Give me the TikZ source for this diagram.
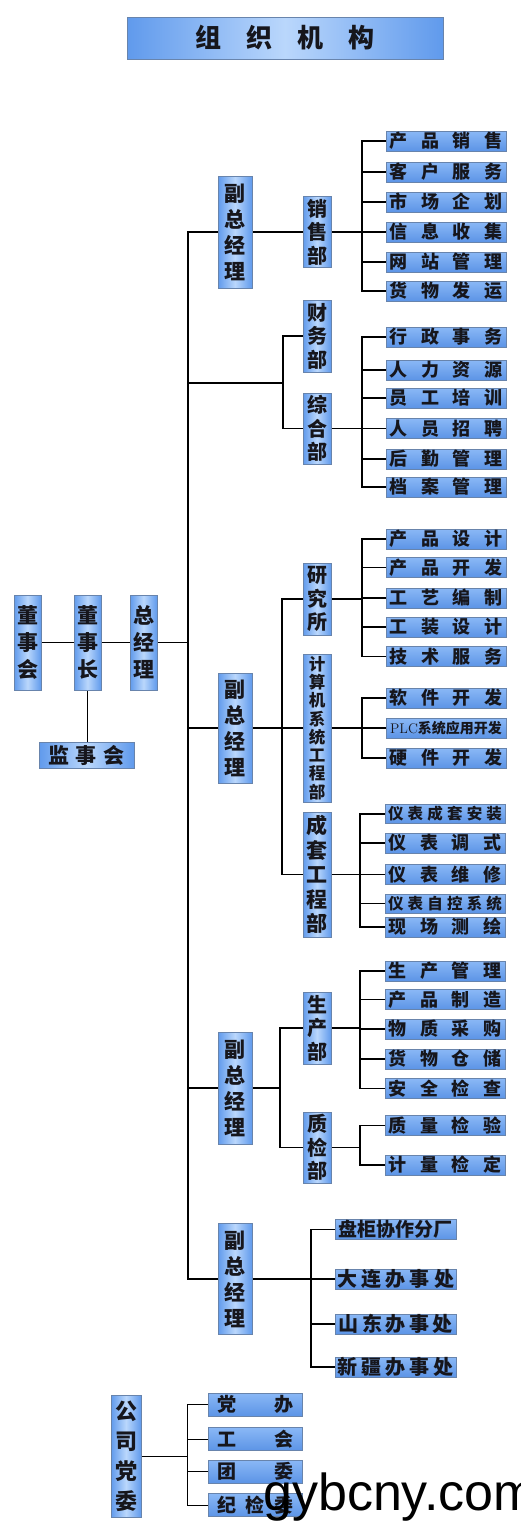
\documentclass[tikz,border=0pt]{standalone}
\usepackage{fontspec}
\usepackage{xcolor}
\newfontfamily\cjk{Noto Sans CJK SC}
\newfontfamily\wmfont{Liberation Sans}
\usetikzlibrary{backgrounds}

\definecolor{boxblue}{RGB}{96,154,236}
\definecolor{boxlight}{RGB}{186,215,252}
\definecolor{leaftop}{RGB}{138,184,246}
\definecolor{leafbot}{RGB}{92,148,230}
\definecolor{boxedge}{RGB}{104,132,172}
\definecolor{ink}{RGB}{22,22,28}

% spread spaced characters over a fixed width
\newcommand\spr[2]{\makebox[#1][s]{#2}}

\begin{document}
\begin{tikzpicture}[x=1pt,y=-1pt,
  vbox/.style={draw=boxedge,line width=0.6pt,left color=boxblue,right color=boxblue,
    middle color=boxlight,inner sep=0pt,align=center,text=ink},
  titlebox/.style={vbox,minimum width=316pt,minimum height=42pt,font=\cjk\bfseries\fontsize{26}{30}\selectfont},
  topbox/.style={vbox,minimum width=27pt,minimum height=95pt,font=\cjk\bfseries\fontsize{21}{27}\selectfont},
  vpbox/.style={vbox,minimum width=34pt,minimum height=112pt,font=\cjk\bfseries\fontsize{21}{26}\selectfont},
  deptbox/.style={vbox,minimum width=28pt,minimum height=71pt,font=\cjk\bfseries\fontsize{20}{23.5}\selectfont},
  leaf/.style={draw=boxedge,line width=0.6pt,top color=leaftop,bottom color=leafbot,
    inner sep=0pt,minimum width=120pt,minimum height=20pt,text=ink,font=\cjk\bfseries\fontsize{18}{20}\selectfont},
  office/.style={leaf,minimum width=121pt,font=\cjk\bfseries\fontsize{20}{22}\selectfont},
  party/.style={leaf,minimum width=94pt,minimum height=23pt,font=\cjk\bfseries\fontsize{19}{22}\selectfont},
  link/.style={line width=1.6pt,line cap=rect},
  thinlink/.style={line width=1pt,line cap=rect}]

  \useasboundingbox (0,0) rectangle (520,1540);

  % title
  \node[titlebox] (title) at (285,38) {\spr{180pt}{组 织 机 构}};

  % board and general manager
  \node[topbox] (dsh) at (27.5,642.5) {董\\事\\会};
  \node[topbox] (dsz) at (87.5,642.5) {董\\事\\长};
  \node[topbox] (zjl) at (143.5,642.5) {总\\经\\理};
  \node[vbox,minimum width=95pt,minimum height=26pt,font=\cjk\bfseries\fontsize{21}{24}\selectfont]
    (jsh) at (86.5,755) {\spr{76pt}{监 事 会}};

  % deputy general managers
  \node[vpbox] (vp1) at (235,232) {副\\总\\经\\理};
  \node[vpbox,minimum height=110pt] (vp2) at (235,728) {副\\总\\经\\理};
  \node[vpbox] (vp3) at (235,1088) {副\\总\\经\\理};
  \node[vpbox,minimum height=111pt] (vp4) at (235,1279) {副\\总\\经\\理};

  % departments
  \node[deptbox] (xsb) at (317,232) {销\\售\\部};
  \node[deptbox,minimum height=72pt] (cwb) at (317,336) {财\\务\\部};
  \node[deptbox] (zhb) at (317,428.5) {综\\合\\部};
  \node[deptbox,minimum height=72pt] (yjs) at (317,599) {研\\究\\所};
  \node[deptbox,minimum height=148pt,font=\cjk\bfseries\fontsize{16.5}{18.3}\selectfont]
    (jsj) at (317,728) {计\\算\\机\\系\\统\\工\\程\\部};
  \node[deptbox,minimum height=125pt,font=\cjk\bfseries\fontsize{21}{24.5}\selectfont]
    (ctb) at (317,874.5) {成\\套\\工\\程\\部};
  \node[deptbox,minimum height=72pt] (scb) at (317,1028) {生\\产\\部};
  \node[deptbox] (zjb) at (317,1147.5) {质\\检\\部};

  % sections
  \foreach \y/\t [count=\i] in {141/产 品 销 售,172/客 户 服 务,202/市 场 企 划,
                               232/信 息 收 集,262/网 站 管 理,291/货 物 发 运}
    \node[leaf] (xs\i) at (446,\y) {\spr{113pt}{\t}};
  \foreach \y/\t [count=\i] in {337/行 政 事 务,370/人 力 资 源,398/员 工 培 训,
                               428.5/人 员 招 聘,459/后 勤 管 理,487/档 案 管 理}
    \node[leaf] (zh\i) at (446,\y) {\spr{113pt}{\t}};
  \foreach \y/\t [count=\i] in {539/产 品 设 计,567.5/产 品 开 发,598/工 艺 编 制,
                               627/工 装 设 计,656.5/技 术 服 务}
    \node[leaf] (yj\i) at (446,\y) {\spr{113pt}{\t}};
  \node[leaf] (js1) at (446,698) {\spr{113pt}{软 件 开 发}};
  \node[leaf,font=\fontsize{14}{16}\selectfont] (js2) at (446,728) {PLC{\cjk\bfseries 系统应用开发}};
  \node[leaf] (js3) at (446,758) {\spr{113pt}{硬 件 开 发}};
  \node[leaf,minimum height=19pt,font=\cjk\bfseries\fontsize{15.5}{18}\selectfont]
    (ct1) at (445,814) {\spr{114pt}{仪 表 成 套 安 装}};
  \node[leaf] (ct2) at (445,843) {\spr{113pt}{仪 表 调 式}};
  \node[leaf] (ct3) at (445,874.5) {\spr{113pt}{仪 表 维 修}};
  \node[leaf,minimum height=19pt,font=\cjk\bfseries\fontsize{15.5}{18}\selectfont]
    (ct4) at (445,903.5) {\spr{114pt}{仪 表 自 控 系 统}};
  \node[leaf] (ct5) at (445,927) {\spr{113pt}{现 场 测 绘}};
  \foreach \y/\t [count=\i] in {971/生 产 管 理,999.5/产 品 制 造,1029/物 质 采 购,
                               1059/货 物 仓 储,1088.5/安 全 检 查}
    \node[leaf] (sc\i) at (445,\y) {\spr{113pt}{\t}};
  \node[leaf] (zj1) at (445,1125.5) {\spr{113pt}{质 量 检 验}};
  \node[leaf] (zj2) at (445,1165) {\spr{113pt}{计 量 检 定}};

  % offices
  \node[office,font=\cjk\bfseries\fontsize{19}{22}\selectfont] (of1) at (395.5,1229.5) {盘柜协作分厂};
  \node[office] (of2) at (395.5,1279) {\spr{117pt}{大 连 办 事 处}};
  \node[office] (of3) at (395.5,1324) {\spr{114pt}{山 东 办 事 处}};
  \node[office] (of4) at (395.5,1367) {\spr{116pt}{新 疆 办 事 处}};

  % party committee
  \node[vbox,minimum width=30pt,minimum height=122pt,font=\cjk\bfseries\fontsize{22}{30}\selectfont]
    (dw) at (126,1456) {公\\司\\党\\委};
  \foreach \y/\t [count=\i] in {1404.5/党 办,1439/工 会,1471.5/团 委,1505/纪 检 委}
    \node[party] (dw\i) at (255,\y) {\spr{76pt}{\t}};

  % connectors
  \begin{scope}[on background layer]
    \coordinate (trunk) at (188,0);
    \coordinate (br0) at (283,383);
    \coordinate (br2) at (282,0);
    \coordinate (br3) at (280,0);
    \coordinate (bus) at (362,0);
    \coordinate (bus2) at (360,0);
    \coordinate (bus4) at (311,0);
    \coordinate (busdw) at (187,0);

    \draw[link] (dsh.east) -- (dsz.west);
    \draw[link] (dsz.east) -- (zjl.west);
    \draw[link] (dsz.south) -- (dsz.south |- jsh.north);
    \draw[link] (zjl.east) -- (zjl.east -| trunk);
    \draw[link] (vp1.west -| trunk) -- (vp4.west -| trunk);
    \foreach \n in {vp1,vp2,vp3,vp4}
      \draw[link] (\n.west -| trunk) -- (\n.west);

    % sales
    \draw[link] (vp1.east) -- (xsb.west);
    \draw[link] (xsb.east) -- (xsb.east -| bus);
    \draw[link] (xs1.west -| bus) -- (xs6.west -| bus);
    \foreach \i in {1,...,6}
      \draw[link] (xs\i.west -| bus) -- (xs\i.west);

    % finance and general affairs
    \draw[link] (br0 -| trunk) -- (br0);
    \draw[link] (cwb.west -| br0) -- (zhb.west -| br0);
    \draw[link] (cwb.west -| br0) -- (cwb.west);
    \draw[link] (zhb.west -| br0) -- (zhb.west);
    \draw[link] (zhb.east) -- (zhb.east -| bus);
    \draw[link] (zh1.west -| bus) -- (zh6.west -| bus);
    \foreach \i in {1,...,6}
      \draw[link] (zh\i.west -| bus) -- (zh\i.west);

    % research and engineering
    \draw[link] (vp2.east) -- (jsj.west);
    \draw[link] (yjs.west -| br2) -- (ctb.west -| br2);
    \draw[link] (yjs.west -| br2) -- (yjs.west);
    \draw[link] (ctb.west -| br2) -- (ctb.west);
    \draw[link] (yjs.east) -- (yjs.east -| bus);
    \draw[link] (yj1.west -| bus) -- (yj5.west -| bus);
    \foreach \i in {1,...,5}
      \draw[link] (yj\i.west -| bus) -- (yj\i.west);
    \draw[link] (jsj.east) -- (jsj.east -| bus);
    \draw[link] (js1.west -| bus) -- (js3.west -| bus);
    \foreach \i in {1,2,3}
      \draw[link] (js\i.west -| bus) -- (js\i.west);
    \draw[link] (ctb.east) -- (ctb.east -| bus2);
    \draw[link] (ct1.west -| bus2) -- (ct5.west -| bus2);
    \foreach \i in {1,...,5}
      \draw[link] (ct\i.west -| bus2) -- (ct\i.west);

    % production and quality
    \draw[link] (vp3.east) -- (vp3.east -| br3);
    \draw[link] (scb.west -| br3) -- (zjb.west -| br3);
    \draw[link] (scb.west -| br3) -- (scb.west);
    \draw[link] (zjb.west -| br3) -- (zjb.west);
    \draw[link] (scb.east) -- (scb.east -| bus2);
    \draw[link] (sc1.west -| bus2) -- (sc5.west -| bus2);
    \foreach \i in {1,...,5}
      \draw[link] (sc\i.west -| bus2) -- (sc\i.west);
    \draw[link] (zjb.east) -- (zjb.east -| bus2);
    \draw[link] (zj1.west -| bus2) -- (zj2.west -| bus2);
    \foreach \i in {1,2}
      \draw[link] (zj\i.west -| bus2) -- (zj\i.west);

    % offices
    \draw[link] (vp4.east) -- (of2.west);
    \draw[link] (of1.west -| bus4) -- (of4.west -| bus4);
    \foreach \i in {1,3,4}
      \draw[link] (of\i.west -| bus4) -- (of\i.west);

    % party committee
    \draw[thinlink] (dw.east) -- (dw.east -| busdw);
    \draw[thinlink] (dw1.west -| busdw) -- (dw4.west -| busdw);
    \foreach \i in {1,...,4}
      \draw[thinlink] (dw\i.west -| busdw) -- (dw\i.west);
  \end{scope}

  % watermark
  \begin{scope}
    \clip (0,0) rectangle (520,1540);
    \node[anchor=base west,inner sep=0pt,font=\wmfont\fontsize{52}{60}\selectfont]
      (wm) at (263,1510) {gybcny.com};
  \end{scope}
\end{tikzpicture}
\end{document}
